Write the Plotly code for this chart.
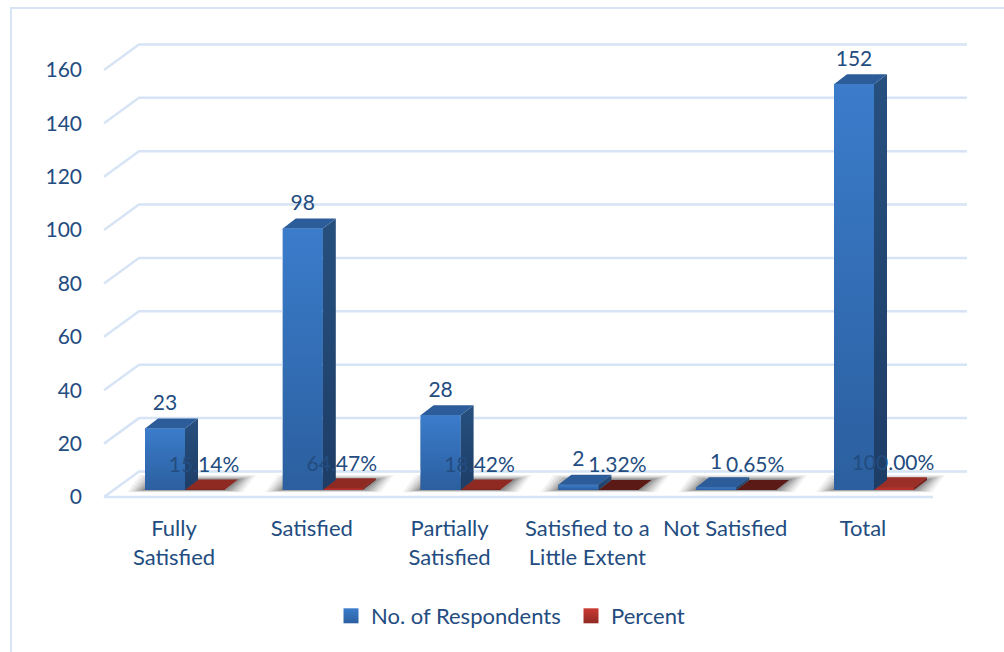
import plotly.graph_objects as go

categories = ["Fully<br>Satisfied", "Satisfied", "Partially<br>Satisfied",
              "Satisfied to a<br>Little Extent", "Not Satisfied", "Total"]
respondents = [23, 98, 28, 2, 1, 152]
percent = [15.14, 64.47, 18.42, 1.32, 0.65, 100.00]
y_ticks = [0, 20, 40, 60, 80, 100, 120, 140, 160]
red_top_colors = ["#8f2a23", "#8f2a23", "#8f2a23", "#5c1a16", "#5c1a16", "#9c2e28"]

# pixel geometry
W, H = 1004, 652
L, R, T, B = 83, 1000, 20, 513
PX_X, PX_Y = 137.8, 2.669
X0_PX, Y0_PX = 174, 497
TEXT = "#234c80"
FONT = "Lato"
FS = 21
GRID = "#d6e4f5"


def ux(px):
    return px / PX_X


def uy(px):
    return px / PX_Y


BAR_W = ux(40)
BLUE_L, RED_L = ux(-29), ux(11)
BASE = uy(7)
DX, DY = ux(13), uy(10)
WALL_L, WALL_DX, WALL_DY = ux(104 - X0_PX), ux(35), uy(25.5)
WALL_R_FRONT, WALL_R_BACK = ux(933 - X0_PX), ux(967 - X0_PX)

fig = go.Figure()


def poly(xs, ys, color=None, grad=None):
    kw = dict(fillgradient=dict(type="vertical", colorscale=[[0, grad[1]], [1, grad[0]]])) if grad else dict(fillcolor=color)
    fig.add_trace(go.Scatter(x=xs + xs[:1], y=ys + ys[:1], mode="lines", fill="toself",
                             line=dict(width=0), hoverinfo="skip", showlegend=False, **kw))


# real bar marks
xpos = list(range(len(categories)))
fig.add_trace(go.Bar(x=[i + BLUE_L + BAR_W / 2 for i in xpos], y=respondents, base=BASE, width=BAR_W,
                     marker=dict(color="#2f66a8", line=dict(width=0)), showlegend=False, hoverinfo="skip"))
fig.add_trace(go.Bar(x=[i + RED_L + BAR_W / 2 for i in xpos], y=[p / 100 for p in percent], base=BASE, width=BAR_W,
                     marker=dict(color="#b5302a", line=dict(width=0)), showlegend=False, hoverinfo="skip"))

# walls
gx, gy = [], []
for t in y_ticks:
    gx += [WALL_L, WALL_L + WALL_DX, WALL_R_BACK, None]
    gy += [t, t + WALL_DY, t + WALL_DY, None]
gx += [WALL_L, WALL_R_FRONT, None]
gy += [0, 0, None]
fig.add_trace(go.Scatter(x=gx, y=gy, mode="lines", line=dict(color=GRID, width=2.5),
                         hoverinfo="skip", showlegend=False))

# soft floor shadows
for i in xpos:
    for grow, alpha in [(18, .05), (15, .07), (12, .09), (9, .11), (6, .13), (3, .15)]:
        g = ux(grow)
        x0, x1 = i + BLUE_L - g, i + RED_L + BAR_W + g
        yb, yt = BASE - uy(grow * .12), BASE + DY + uy(grow * .28)
        poly([x0, x1, x1 + DX, x0 + DX], [yb, yb, yt, yt], color=f"rgba(20,20,20,{alpha})")

# 3-D faces
for i, v, p, rtop in zip(xpos, respondents, percent, red_top_colors):
    # red bar
    h = p / 100 + BASE
    x0, x1 = i + RED_L, i + RED_L + BAR_W
    poly([x1, x1 + DX, x1 + DX, x1], [BASE, BASE + DY, h + DY, h], color="#7c201b")
    poly([x0, x1, x1 + DX, x0 + DX], [h, h, h + DY, h + DY], color=rtop)
    poly([x0, x1, x1, x0], [BASE, BASE, h, h], color="#b5302a")
    # blue bar
    h = v + BASE
    x0, x1 = i + BLUE_L, i + BLUE_L + BAR_W
    poly([x1, x1 + DX, x1 + DX, x1], [BASE, BASE + DY, h + DY, h], grad=("#27507f", "#1d3d66"))
    poly([x0, x1, x1 + DX, x0 + DX], [h, h, h + DY, h + DY], color="#2c5c99")
    poly([x0, x1, x1, x0], [BASE, BASE, h, h], grad=("#3b7ccb", "#2b5f9f"))

# data labels
font = dict(family=FONT, size=FS, color=TEXT)
font_lg = dict(family=FONT, size=22, color=TEXT)
fig.add_trace(go.Scatter(x=[i + ux(-9) for i in xpos], y=[v + uy(31) for v in respondents], mode="text",
                         text=[str(v) for v in respondents], textposition="middle center", textfont=font,
                         hoverinfo="skip", showlegend=False, cliponaxis=False))
fig.add_trace(go.Scatter(x=[i + ux(30) for i in xpos], y=[p / 100 + uy(30) for p in percent], mode="text",
                         text=[f"{p:.2f}%" for p in percent], textposition="middle center", textfont=font,
                         hoverinfo="skip", showlegend=False, cliponaxis=False))

# legend entries
for name, c1, c2 in [("No. of Respondents", "#3b7ccb", "#2b5f9f"), ("Percent", "#cc3a35", "#8f2a23")]:
    fig.add_trace(go.Scatter(x=[None], y=[None], mode="markers", name=name,
                             marker=dict(symbol="square", size=15, color=c1,
                                         gradient=dict(type="vertical", color=c2))))


def px_paper_x(p):
    return (p - L) / (R - L)


def px_paper_y(p):
    return (B - p) / (B - T)


fig.update_layout(
    width=W, height=H, autosize=False,
    margin=dict(l=L, r=W - R, t=T, b=H - B),
    paper_bgcolor="white", plot_bgcolor="white",
    barmode="overlay",
    font=font,
    xaxis=dict(range=[(L - X0_PX) / PX_X, (R - X0_PX) / PX_X], tickvals=xpos, ticktext=categories,
               showgrid=False, zeroline=False, showline=False, ticks="", tickfont=font_lg, fixedrange=True),
    yaxis=dict(range=[(Y0_PX - B) / PX_Y, (Y0_PX - T) / PX_Y], tickvals=y_ticks,
               showgrid=False, zeroline=False, showline=False, ticks="", tickfont=font, fixedrange=True),
    legend=dict(orientation="h", xref="paper", yref="paper", x=px_paper_x(331), y=px_paper_y(595),
                xanchor="left", yanchor="top", font=font_lg, entrywidth=195, bgcolor="rgba(0,0,0,0)"),
    shapes=[dict(type="path", xref="paper", yref="paper", layer="below",
                 path=f"M {px_paper_x(11)} {px_paper_y(H + 5)} L {px_paper_x(11)} {px_paper_y(8)} L {px_paper_x(W + 5)} {px_paper_y(8)}",
                 line=dict(color=GRID, width=2))],
)
fig.write_html("out.html", config=dict(displayModeBar=False), post_script="document.body.style.margin='0';")
